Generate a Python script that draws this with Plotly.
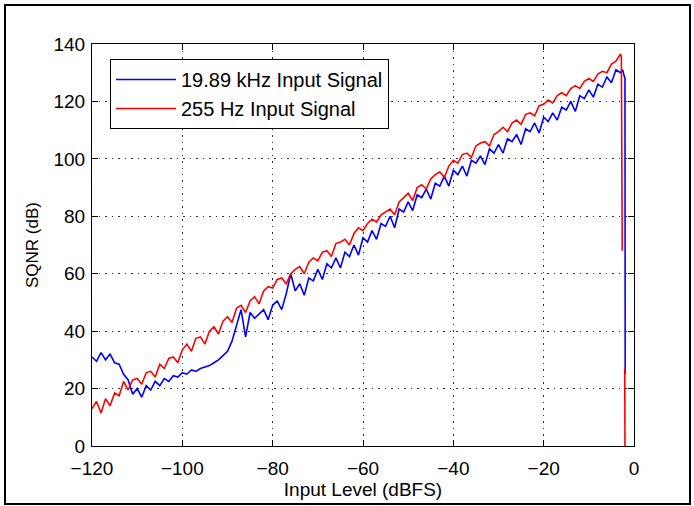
import plotly.graph_objects as go

# Input level grid (dBFS), 1 dB steps from -120 to -3
input_level = list(range(-120, -2))

# SQNR (dB), 255 Hz input
sqnr_255hz = [
    13, 15.5, 11.5, 16.5, 14, 18.5, 17.5, 22.5, 19.5, 23,
    23.5, 21.5, 25.5, 26, 24, 28.5, 27, 30.5, 31, 29,
    33.5, 35.5, 33, 37.5, 38, 35.5, 40, 41.5, 39, 43.5,
    45, 43, 48, 49, 46.5, 50.5, 52, 49.5, 54, 55.5,
    55, 58, 58.5, 56.5, 60, 61.5, 62.5, 60, 64, 65.5,
    64.5, 67.5, 68, 66, 70.5, 71, 72, 70, 74, 76,
    75, 77.5, 79, 78, 80.5, 81.5, 82.5, 80.5, 85, 86.5,
    88, 85.5, 90, 91, 89.5, 93, 94.5, 95.5, 93.5, 97.5,
    99.5, 98.5, 101.5, 102, 100.5, 104.5, 105.5, 106, 104.5, 108.5,
    109.5, 111, 109.5, 112.5, 113.5, 112, 115.5, 116, 115, 118.5,
    119, 120.5, 119.5, 122, 123, 122, 124.5, 125.5, 124.5, 127,
    128, 127, 129.5, 130.5, 130, 133, 134, 136.5,
]
# end of the 255 Hz sweep (clipping drop)
tail_255hz_x = [-2.8, -2.6, None, -2.05, -2.0]
tail_255hz_y = [135.5, 68, None, 27, 0]

# SQNR (dB), 19.89 kHz input
sqnr_19khz = [
    31, 29.5, 32.5, 30, 32, 29, 28.5, 25, 23, 18,
    20, 17, 21, 19.5, 22.5, 21, 23.5, 22.5, 24.5, 24,
    25.5, 25, 26.5, 26, 27, 27.5, 28, 29, 30, 31.5,
    33, 36.5, 42, 47.5, 38, 46.5, 44.5, 46, 47.5, 44,
    49, 50.5, 47.5, 53, 60, 54, 56.5, 52.5, 58.5, 57.5,
    61.5, 58, 63.5, 62, 65.5, 62, 67.5, 66, 70, 66.5,
    72.5, 71, 75, 72, 77.5, 76.5, 80, 76, 82.5, 81.5,
    85, 82, 87.5, 86.5, 89.5, 86, 91.5, 90.5, 94, 90.5,
    96, 94.5, 97.5, 94, 99.5, 98.5, 101, 98, 103.5, 102,
    105, 102, 107, 106, 108.5, 105, 110.5, 109.5, 112.5, 109,
    114.5, 113, 116, 113.5, 118, 117, 120, 116.5, 122, 121,
    124, 121.5, 126, 125, 128.5, 126.5, 131, 130,
]
tail_19khz_x = [-2.5, -2.2, -2.0, -1.95]
tail_19khz_y = [131, 129, 128, 25]

series_names = ["19.89 kHz Input Signal", "255 Hz Input Signal"]
x_ticks = [-120, -100, -80, -60, -40, -20, 0]
y_ticks = [0, 20, 40, 60, 80, 100, 120, 140]

FONT = "Liberation Sans, Arial, Helvetica, sans-serif"

fig = go.Figure()
fig.add_trace(go.Scatter(
    x=input_level + tail_19khz_x, y=sqnr_19khz + tail_19khz_y,
    mode="lines", name=series_names[0],
    line=dict(color="#0000FF", width=1.6), connectgaps=False,
))
fig.add_trace(go.Scatter(
    x=input_level + tail_255hz_x, y=sqnr_255hz + tail_255hz_y,
    mode="lines", name=series_names[1],
    line=dict(color="#FF0000", width=1.6), connectgaps=False,
))

axis_common = dict(
    showline=True, linecolor="black", linewidth=1, mirror="ticks",
    ticks="inside", ticklen=6, tickcolor="black", automargin=False,
    showgrid=True, gridcolor="#333333", gridwidth=1, griddash="1.5px,5px",
    zeroline=False, tickfont=dict(family=FONT, size=19, color="black"),
)

fig.update_xaxes(
    range=[-120, 0], tickvals=x_ticks, ticklabelstandoff=5,
    title=dict(text="Input Level (dBFS)", font=dict(family=FONT, size=19, color="black"), standoff=4),
    **axis_common,
)
fig.update_yaxes(
    range=[0, 140], tickvals=y_ticks, ticklabelstandoff=2,
    title=dict(text="SQNR (dB)", font=dict(family=FONT, size=17, color="black"), standoff=10),
    **axis_common,
)

L, R, T, B = 92, 60, 44, 60
W, H = 694, 506
pw, ph = W - L - R, H - T - B

def px_x(p):
    return (p - L) / pw

def px_y(p):
    return (H - B - p) / ph

fig.update_layout(
    width=W, height=H,
    margin=dict(l=L, r=R, t=T, b=B, pad=0),
    paper_bgcolor="white", plot_bgcolor="white",
    font=dict(family=FONT, color="black"),
    showlegend=True,
    legend=dict(
        x=px_x(110), y=px_y(59), xanchor="left", yanchor="top",
        bgcolor="white", bordercolor="black", borderwidth=1,
        font=dict(family=FONT, size=20, color="black"),
        itemwidth=60, tracegroupgap=0,
    ),
    shapes=[dict(
        type="rect", xref="paper", yref="paper",
        x0=px_x(5), x1=px_x(690), y0=px_y(504), y1=px_y(5),
        line=dict(color="black", width=2), fillcolor="rgba(0,0,0,0)", layer="below",
    )],
)

fig.write_html("out.html")
